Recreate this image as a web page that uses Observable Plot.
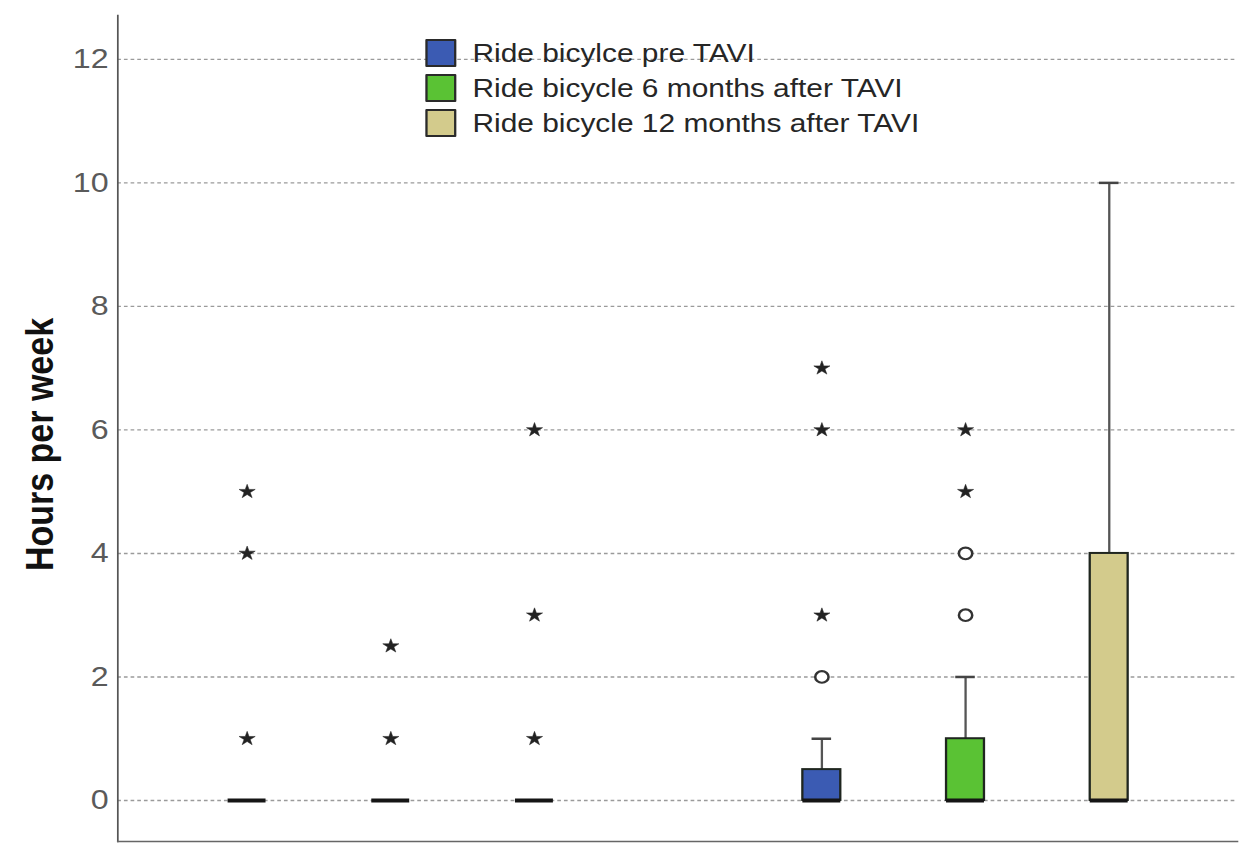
<!DOCTYPE html>
<html>
<head>
<meta charset="utf-8">
<script src="https://cdn.jsdelivr.net/npm/d3@7"></script>
<script src="https://cdn.jsdelivr.net/npm/@observablehq/plot@0.6"></script>
<style>
  html, body { margin: 0; padding: 0; background: #fff; }
  #chart {
    position: relative;
    width: 1090px;
    height: 843px;
    transform: scaleX(1.1495);
    transform-origin: 0 0;
    font-family: "Liberation Sans", Arial, sans-serif;
  }
  #legend {
    position: absolute;
    left: 370px;
    top: 36px;
  }
  .row {
    display: flex;
    align-items: center;
    height: 36px;
    margin-top: -1px;
  }
  .sw {
    width: 23px;
    height: 24px;
    border: 2px solid #2a2a2a;
    border-radius: 1px;
    margin-right: 14px;
    box-sizing: content-box;
  }
  .lab {
    font-size: 26px;
    color: #262626;
    white-space: nowrap;
    line-height: 1;
  }
</style>
</head>
<body>
<div id="chart"><div id="legend"></div></div>
<script>
// Two clusters of three repeated measurements each (hours of cycling per week)
const clusters = ["A", "B"];
const series = [
  "Ride bicylce pre TAVI",
  "Ride bicycle 6 months after TAVI",
  "Ride bicycle 12 months after TAVI"
];
const seriesColors = ["#3b5bb3", "#5ac234", "#d3cb8c"];

// Box statistics, cluster A (three series) then cluster B (three series)
const q1        = [0, 0, 0,   0,   0, 0];
const median    = [0, 0, 0,   0,   0, 0];
const q3        = [0, 0, 0,   0.5, 1, 4];
const whiskerHi = [0, 0, 0,   1,   2, 10];
// Outliers (open circles) and extreme values (stars)
const outliers  = [[], [], [], [2], [3, 4], []];
const extremes  = [[5, 4, 1], [2.5, 1], [6, 3, 1], [7, 6, 3], [6, 5], []];

const yTicks = [0, 2, 4, 6, 8, 10, 12];
const yLabel = "Hours per week";

// Slot keys on the x band scale; an empty slot separates the clusters
const slotKeys = [];
clusters.forEach((c, ci) => {
  if (ci > 0) slotKeys.push("gap");
  series.forEach((s, si) => slotKeys.push(`${c}:${si}`));
});

const boxes = [];
clusters.forEach((c, ci) => series.forEach((s, si) => {
  const k = ci * series.length + si;
  boxes.push({
    slot: `${c}:${si}`, series: s,
    q1: q1[k], median: median[k], q3: q3[k], hi: whiskerHi[k]
  });
}));
const circlePts = [];
const starPts = [];
boxes.forEach((b, k) => {
  outliers[k].forEach(v => circlePts.push({slot: b.slot, value: v}));
  extremes[k].forEach(v => starPts.push({slot: b.slot, value: v}));
});

const chart = Plot.plot({
  width: 1090,
  height: 843,
  marginLeft: 102,
  marginRight: 14,
  marginTop: 15,
  marginBottom: 2,
  style: {fontFamily: "'Liberation Sans', Arial, sans-serif", background: "#fff"},
  x: {type: "band", domain: slotKeys, paddingInner: 0.738, paddingOuter: 0.74, axis: null},
  y: {domain: [-0.664, 12.71], axis: null},
  color: {domain: series, range: seriesColors},
  marks: [
    Plot.gridY(yTicks, {stroke: "#9a9a9a", strokeOpacity: 1, strokeWidth: 1.4, strokeDasharray: "3.2,2.6"}),
    Plot.axisY({ticks: yTicks, tickSize: 0, tickPadding: 8, fontSize: 28, fill: "#5a5a5a", label: null}),
    Plot.text([yLabel], {frameAnchor: "left", textAnchor: "middle", dx: -67, dy: 16, rotate: -90,
      fontSize: 34, fontWeight: "bold", fill: "#111"}),
    Plot.frame({anchor: "left", stroke: "#555", strokeWidth: 1.5}),
    Plot.frame({anchor: "bottom", stroke: "#666", strokeWidth: 1.5}),
    // whiskers and caps
    Plot.ruleX(boxes.filter(d => d.hi > d.q3), {x: "slot", y1: "q3", y2: "hi", stroke: "#555", strokeWidth: 2}),
    Plot.tickY(boxes.filter(d => d.hi > d.q3), {x: "slot", y: "hi", stroke: "#444", strokeWidth: 2.5,
      insetLeft: 8, insetRight: 8}),
    // boxes
    Plot.barY(boxes, {x: "slot", y1: "q1", y2: "q3", fill: "series", stroke: "#1f261f", strokeWidth: 2}),
    // medians
    Plot.tickY(boxes, {x: "slot", y: "median", stroke: "#151515", strokeWidth: 4}),
    // outliers and extremes
    Plot.dot(circlePts, {x: "slot", y: "value", symbol: "circle", r: 5.8, fill: "#fff",
      stroke: "#333", strokeWidth: 2.2}),
    Plot.dot(starPts, {x: "slot", y: "value", symbol: "star", r: 4.4, fill: "#222", stroke: "#222",
      strokeWidth: 0.5})
  ]
});

const holder = document.getElementById("chart");
holder.insertBefore(chart, holder.firstChild);

// Legend drawn over the plot area
const legend = document.getElementById("legend");
series.forEach((s, i) => {
  const row = document.createElement("div");
  row.className = "row";
  const sw = document.createElement("div");
  sw.className = "sw";
  sw.style.background = seriesColors[i];
  const lab = document.createElement("span");
  lab.className = "lab";
  lab.textContent = s;
  row.appendChild(sw);
  row.appendChild(lab);
  legend.appendChild(row);
});
</script>
</body>
</html>
